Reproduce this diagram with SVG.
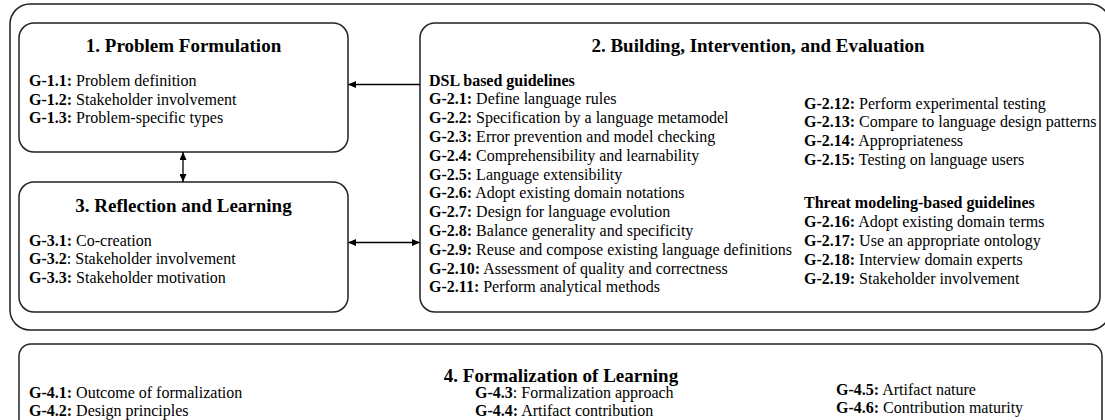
<svg xmlns="http://www.w3.org/2000/svg" width="1105" height="420" viewBox="0 0 1105 420">
<defs>
<style>
text { font-family: "Liberation Serif", "Times New Roman", serif; fill: #000; }
.t { font-size: 19px; font-weight: bold; text-anchor: middle; }
.b { font-size: 16px; }
.h { font-weight: bold; }
.box { fill: #fff; stroke: #222; stroke-width: 1.5; }
.frame { fill: none; stroke: #222; stroke-width: 1.5; }
.conn { stroke: #000; stroke-width: 1.3; fill: none; }
</style>
<marker id="ah" viewBox="0 0 8 7" refX="8" refY="3.5" markerWidth="8" markerHeight="7" markerUnits="userSpaceOnUse" orient="auto-start-reverse">
<path d="M0,0 L8,3.5 L0,7 z" fill="#000"/>
</marker>
</defs>
<rect width="1105" height="420" fill="#fff"/>

<g id="outer-frame">
<rect class="frame" x="10" y="4" width="1100" height="326" rx="20"/>
</g>

<g id="node-1">
<rect class="box" x="19" y="23" width="329" height="129" rx="15"/>
<text class="t" x="183.5" y="52">1. Problem Formulation</text>
<text class="b" x="29" y="86"><tspan class="h">G-1.1:</tspan> Problem definition</text>
<text class="b" x="29" y="104.6"><tspan class="h">G-1.2:</tspan> Stakeholder involvement</text>
<text class="b" x="29" y="123.2"><tspan class="h">G-1.3:</tspan> Problem-specific types</text>
</g>

<g id="node-3">
<rect class="box" x="19" y="182" width="329" height="130" rx="15"/>
<text class="t" x="183.5" y="212">3. Reflection and Learning</text>
<text class="b" x="29" y="245.5"><tspan class="h">G-3.1:</tspan> Co-creation</text>
<text class="b" x="29" y="264"><tspan class="h">G-3.2</tspan>: Stakeholder involvement</text>
<text class="b" x="29" y="282.5"><tspan class="h">G-3.3:</tspan> Stakeholder motivation</text>
</g>

<g id="node-2">
<rect class="box" x="420" y="23" width="680" height="289" rx="15"/>
<text class="t" x="758" y="52">2. Building, Intervention, and Evaluation</text>
<text class="b h" x="429" y="85.5">DSL based guidelines</text>
<text class="b" x="429" y="104.3"><tspan class="h">G-2.1:</tspan> Define language rules</text>
<text class="b" x="429" y="123.1"><tspan class="h">G-2.2:</tspan> Specification by a language metamodel</text>
<text class="b" x="429" y="141.9"><tspan class="h">G-2.3:</tspan> Error prevention and model checking</text>
<text class="b" x="429" y="160.7"><tspan class="h">G-2.4:</tspan> Comprehensibility and learnability</text>
<text class="b" x="429" y="179.5"><tspan class="h">G-2.5:</tspan> Language extensibility</text>
<text class="b" x="429" y="198.3"><tspan class="h">G-2.6:</tspan> Adopt existing domain notations</text>
<text class="b" x="429" y="217.1"><tspan class="h">G-2.7:</tspan> Design for language evolution</text>
<text class="b" x="429" y="235.9"><tspan class="h">G-2.8:</tspan> Balance generality and specificity</text>
<text class="b" x="429" y="254.7"><tspan class="h">G-2.9:</tspan> Reuse and compose existing language definitions</text>
<text class="b" x="429" y="273.5"><tspan class="h">G-2.10:</tspan> Assessment of quality and correctness</text>
<text class="b" x="429" y="292.3"><tspan class="h">G-2.11:</tspan> Perform analytical methods</text>

<text class="b" x="804" y="108.5"><tspan class="h">G-2.12:</tspan> Perform experimental testing</text>
<text class="b" x="804" y="127.3"><tspan class="h">G-2.13:</tspan> Compare to language design patterns</text>
<text class="b" x="804" y="146.1"><tspan class="h">G-2.14:</tspan> Appropriateness</text>
<text class="b" x="804" y="164.9"><tspan class="h">G-2.15:</tspan> Testing on language users</text>
<text class="b h" x="804" y="208.3">Threat modeling-based guidelines</text>
<text class="b" x="804" y="227.2"><tspan class="h">G-2.16:</tspan> Adopt existing domain terms</text>
<text class="b" x="804" y="246.1"><tspan class="h">G-2.17:</tspan> Use an appropriate ontology</text>
<text class="b" x="804" y="265"><tspan class="h">G-2.18:</tspan> Interview domain experts</text>
<text class="b" x="804" y="283.9"><tspan class="h">G-2.19:</tspan> Stakeholder involvement</text>
</g>

<g id="node-4">
<rect class="box" x="19" y="344" width="1083" height="100" rx="12"/>
<text class="t" x="561" y="382">4. Formalization of Learning</text>
<text class="b" x="29" y="398"><tspan class="h">G-4.1:</tspan> Outcome of formalization</text>
<text class="b" x="29" y="416"><tspan class="h">G-4.2:</tspan> Design principles</text>
<text class="b" x="475" y="398"><tspan class="h">G-4.3</tspan>: Formalization approach</text>
<text class="b" x="475" y="416"><tspan class="h">G-4.4:</tspan> Artifact contribution</text>
<text class="b" x="836" y="395"><tspan class="h">G-4.5:</tspan> Artifact nature</text>
<text class="b" x="836" y="413"><tspan class="h">G-4.6:</tspan> Contribution maturity</text>
</g>

<g id="connectors">
<line class="conn" x1="420" y1="84.5" x2="348" y2="84.5" marker-end="url(#ah)"/>
<line class="conn" x1="183" y1="152" x2="183" y2="182" marker-start="url(#ah)" marker-end="url(#ah)"/>
<line class="conn" x1="348" y1="242.5" x2="420" y2="242.5" marker-start="url(#ah)" marker-end="url(#ah)"/>
</g>
</svg>
